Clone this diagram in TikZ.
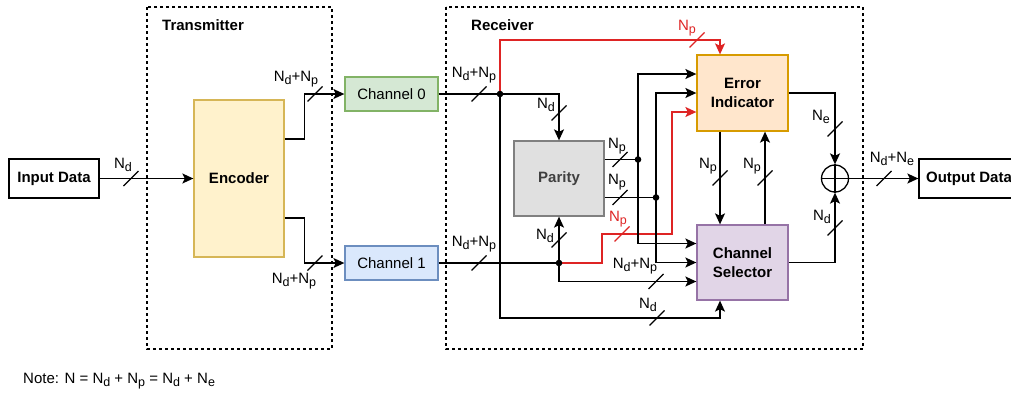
\documentclass[tikz,border=0pt]{standalone}
\usepackage{fontspec}
\setmainfont{Liberation Sans}
\usetikzlibrary{arrows.meta,calc}
\definecolor{encfill}{HTML}{FFF2CC}
\definecolor{encdraw}{HTML}{D6B656}
\definecolor{chafill}{HTML}{D5E8D4}
\definecolor{chadraw}{HTML}{82B366}
\definecolor{chbfill}{HTML}{DAE8FC}
\definecolor{chbdraw}{HTML}{6C8EBF}
\definecolor{eifill}{HTML}{FFE6CC}
\definecolor{eidraw}{HTML}{D79B00}
\definecolor{csfill}{HTML}{E1D5E7}
\definecolor{csdraw}{HTML}{9673A6}
\definecolor{parfill}{HTML}{E0E0E0}
\definecolor{pardraw}{HTML}{808080}
\definecolor{partext}{HTML}{404040}
\definecolor{myred}{RGB}{222,36,36}
\newcommand\sbs[1]{\raisebox{-3pt}{\fontsize{12.5}{13}\selectfont #1}}
\begin{document}
\begin{tikzpicture}[x=1pt,y=-1pt,
  every node/.style={font=\fontsize{15}{18.5}\selectfont},
  box/.style={draw, line width=1.3pt, inner sep=0pt, align=center},
  bbox/.style={box, font=\fontsize{15}{18.5}\selectfont\bfseries},
  wire/.style={line width=1.4pt},
  arr/.style={wire,-{Stealth[length=11pt,width=10pt,inset=2.5pt]}},
  redarr/.style={arr, draw=myred},
  lbl/.style={inner sep=0pt},
  redlbl/.style={inner sep=0pt, text=myred},
  frame/.style={line width=1.2pt, dash pattern=on 3pt off 3pt},
  bus/.pic={\draw[line width=1.2pt] (-7.5,7.5) -- (7.5,-7.5);}
]
\useasboundingbox (0,0) rectangle (1011,397);

% frames
\draw[frame] (147,7) rectangle (332,349);
\draw[frame] (446,7) rectangle (863,349);
\node[lbl, anchor=west, font=\fontsize{15}{18}\selectfont\bfseries] (txt) at (162,25) {Transmitter};
\node[lbl, anchor=west, font=\fontsize{15}{18}\selectfont\bfseries] (rxt) at (471,25) {Receiver};

% blocks
\node[bbox, minimum width=90pt, minimum height=39pt] (in) at (54,178.5) {Input Data};
\node[bbox, fill=encfill, draw=encdraw, minimum width=90pt, minimum height=157pt] (enc) at (239,178.5) {Encoder};
\node[box, fill=chafill, draw=chadraw, minimum width=93pt, minimum height=34pt] (ch0) at (391.5,94) {Channel 0};
\node[box, fill=chbfill, draw=chbdraw, minimum width=93pt, minimum height=34pt] (ch1) at (391.5,263) {Channel 1};
\node[bbox, fill=parfill, draw=pardraw, text=partext, minimum width=90pt, minimum height=75pt] (par) at (559,178.5) {Parity};
\node[bbox, fill=eifill, draw=eidraw, minimum width=91pt, minimum height=76pt] (ei) at (742.5,93) {Error\\Indicator};
\node[bbox, fill=csfill, draw=csdraw, minimum width=91pt, minimum height=75pt] (cs) at (742.5,262.5) {Channel\\Selector};
\node[draw, circle, line width=1.3pt, minimum size=27pt, inner sep=0pt] (xor) at (835,178.5) {};
\draw[wire] (xor.north) -- (xor.south) (xor.west) -- (xor.east);
\node[bbox, minimum width=100pt, minimum height=39pt] (out) at (969,178.5) {Output Data};

% junctions
\coordinate (d0) at (500,94);
\coordinate (d1) at (559,263);
\coordinate (dA) at (638,159.5);
\coordinate (dB) at (656,197.5);

% transmitter wires
\draw[arr] (in.east) -- (enc.west);
\draw[arr] ([yshift=39.5pt]enc.east) -- ++(20,0) |- (ch0.west);
\draw[arr] ([yshift=-39.5pt]enc.east) -- ++(20,0) |- (ch1.west);

% receiver wires
\draw[wire] (ch0.east) -- (d0);
\draw[arr] (d0) -| (par.north);
\draw[redarr] (d0) |- (720,40) -- ([xshift=-22.5pt]ei.north);
\draw[arr] (d0) -- (500,318) -| ([xshift=-22.5pt]cs.south);

\draw[wire] (ch1.east) -- (d1);
\draw[arr] (d1) -- (par.south);
\draw[arr] (d1) |- ([yshift=-19pt]cs.west);
\draw[redarr] (d1) -- (602,263) |- (672,234) |- ([yshift=-19pt]ei.west);

\draw[wire] ([yshift=19pt]par.east) -- (dA);
\draw[arr] (dA) |- ([yshift=19pt]ei.west);
\draw[arr] (dA) |- ([yshift=19pt]cs.west);
\draw[wire] ([yshift=-19pt]par.east) -- (dB);
\draw[arr] (dB) |- (ei.west);
\draw[arr] (dB) |- (cs.west);

\draw[arr] ([xshift=-22.5pt]ei.south) -- ([xshift=-22.5pt]cs.north);
\draw[arr] ([xshift=22.5pt]cs.north) -- ([xshift=22.5pt]ei.south);
\draw[arr] (ei.east) -| (xor.north);
\draw[arr] (cs.east) -| (xor.south);
\draw[arr] (xor.east) -- (out.west);

% dots
\foreach \p in {d0,d1,dA,dB} \fill (\p) circle (3.3pt);

% bus slashes
\pic at (131,178.5) {bus};
\pic at (315,94) {bus};
\pic at (315,263) {bus};
\pic at (479,94) {bus};
\pic[color=myred] at (697,40) {bus};
\pic at (559,113) {bus};
\pic at (657,318) {bus};
\pic at (479,263) {bus};
\pic at (559,240) {bus};
\pic at (656,281.5) {bus};
\pic[color=myred] at (622,234) {bus};
\pic at (620,159.5) {bus};
\pic at (620,197.5) {bus};
\pic at (720,178) {bus};
\pic at (765,178) {bus};
\pic at (835,129) {bus};
\pic at (835,228) {bus};
\pic at (884,178.5) {bus};

% labels
\node[lbl] (l1) at (123,165) {N\sbs{d}};
\node[lbl] (l2) at (296,79) {N\sbs{d}+N\sbs{p}};
\node[lbl] (l3) at (294,281) {N\sbs{d}+N\sbs{p}};
\node[lbl] (l4) at (474,75) {N\sbs{d}+N\sbs{p}};
\node[redlbl] (l5) at (687,28) {N\sbs{p}};
\node[lbl] (l6) at (546,105) {N\sbs{d}};
\node[lbl] (l7) at (648,305) {N\sbs{d}};
\node[lbl] (l8) at (474,244) {N\sbs{d}+N\sbs{p}};
\node[lbl] (l9) at (545,236) {N\sbs{d}};
\node[lbl] (l10) at (635,266) {N\sbs{d}+N\sbs{p}};
\node[redlbl] (l11) at (618,219) {N\sbs{p}};
\node[lbl] (l12) at (617,146) {N\sbs{p}};
\node[lbl] (l13) at (617,182) {N\sbs{p}};
\node[lbl] (l14) at (708,166) {N\sbs{p}};
\node[lbl] (l15) at (752,166) {N\sbs{p}};
\node[lbl] (l16) at (821,117) {N\sbs{e}};
\node[lbl] (l17) at (822,217) {N\sbs{d}};
\node[lbl] (l18) at (892,159) {N\sbs{d}+N\sbs{e}};

\node[lbl, anchor=west] (note) at (23,381) {Note: N = N\sbs{d} + N\sbs{p} = N\sbs{d} + N\sbs{e}};
\end{tikzpicture}
\end{document}
